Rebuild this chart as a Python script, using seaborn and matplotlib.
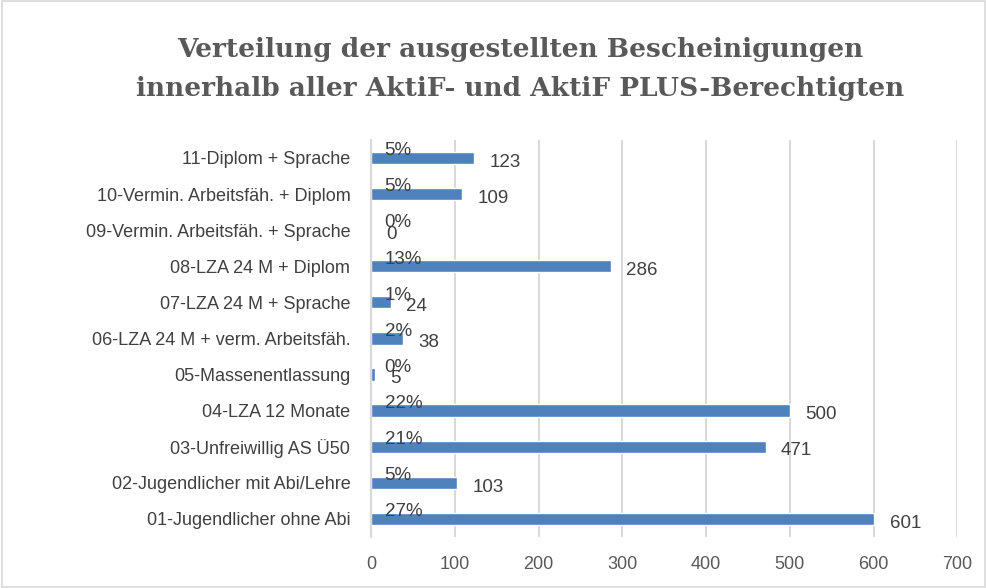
import numpy as np
import pandas as pd
import seaborn as sns
import matplotlib
matplotlib.use("Agg")
import matplotlib.pyplot as plt
from matplotlib.patches import Rectangle

# Data (top to bottom as shown in the chart)
categories = [
    "11-Diplom + Sprache",
    "10-Vermin. Arbeitsfäh. + Diplom",
    "09-Vermin. Arbeitsfäh. + Sprache",
    "08-LZA 24 M + Diplom",
    "07-LZA 24 M + Sprache",
    "06-LZA 24 M + verm. Arbeitsfäh.",
    "05-Massenentlassung",
    "04-LZA 12 Monate",
    "03-Unfreiwillig AS Ü50",
    "02-Jugendlicher mit Abi/Lehre",
    "01-Jugendlicher ohne Abi",
]
counts = [123, 109, 0, 286, 24, 38, 5, 500, 471, 103, 601]
x_ticks = [0, 100, 200, 300, 400, 500, 600, 700]

BAR_COLOR = "#4F81BD"
GRID_COLOR = "#D9D9D9"
TEXT_COLOR = "#404040"

df = pd.DataFrame({"Kategorie": categories, "Anzahl": counts})
total = df["Anzahl"].sum()
df["Anteil"] = df["Anzahl"] / total

sns.set_theme(style="white")
plt.rcParams["font.family"] = ["Liberation Sans", "DejaVu Sans"]

fig = plt.figure(figsize=(9.87, 5.88), dpi=100)
ax = fig.add_axes([0.376, 0.087, 0.594, 0.675])

sns.barplot(data=df, x="Anzahl", y="Kategorie", orient="h", order=categories,
            color=BAR_COLOR, saturation=1, width=0.34, ax=ax)

# labels: percentage above bar start, value right of bar end
for i, (val, share) in enumerate(zip(df["Anzahl"], df["Anteil"])):
    ax.text(16, i - 0.2, f"{share:.0%}", ha="left", va="center",
            fontsize=13.5, color=TEXT_COLOR)
    ax.text(val + 18, i + 0.12, f"{val}", ha="left", va="center",
            fontsize=13.5, color=TEXT_COLOR)

ax.set_xlim(0, 700)
ax.set_ylim(10.5, -0.5)
ax.set_xticks(x_ticks)
ax.set_xlabel("")
ax.set_ylabel("")
ax.grid(axis="x", color=GRID_COLOR, linewidth=1.5)
ax.set_axisbelow(True)
for s in ["top", "right", "bottom"]:
    ax.spines[s].set_visible(False)
ax.spines["left"].set_color(GRID_COLOR)
ax.spines["left"].set_linewidth(1.5)
ax.tick_params(axis="both", length=0, labelsize=13, colors=TEXT_COLOR)
ax.tick_params(axis="x", pad=14, colors="#595959")
ax.tick_params(axis="y", pad=15)

fig.text(0.527, 0.883, "Verteilung der ausgestellten Bescheinigungen\ninnerhalb aller AktiF- und AktiF PLUS-Berechtigten",
         ha="center", va="center", fontsize=19, fontweight="bold",
         color="#595959", family="DejaVu Serif", linespacing=1.7)

# light border around the chart area
fig.patches.append(Rectangle((0.002, 0.002), 0.996, 0.996, transform=fig.transFigure,
                             fill=False, edgecolor=GRID_COLOR, linewidth=1.2))

fig.savefig("out.png", dpi=100)
